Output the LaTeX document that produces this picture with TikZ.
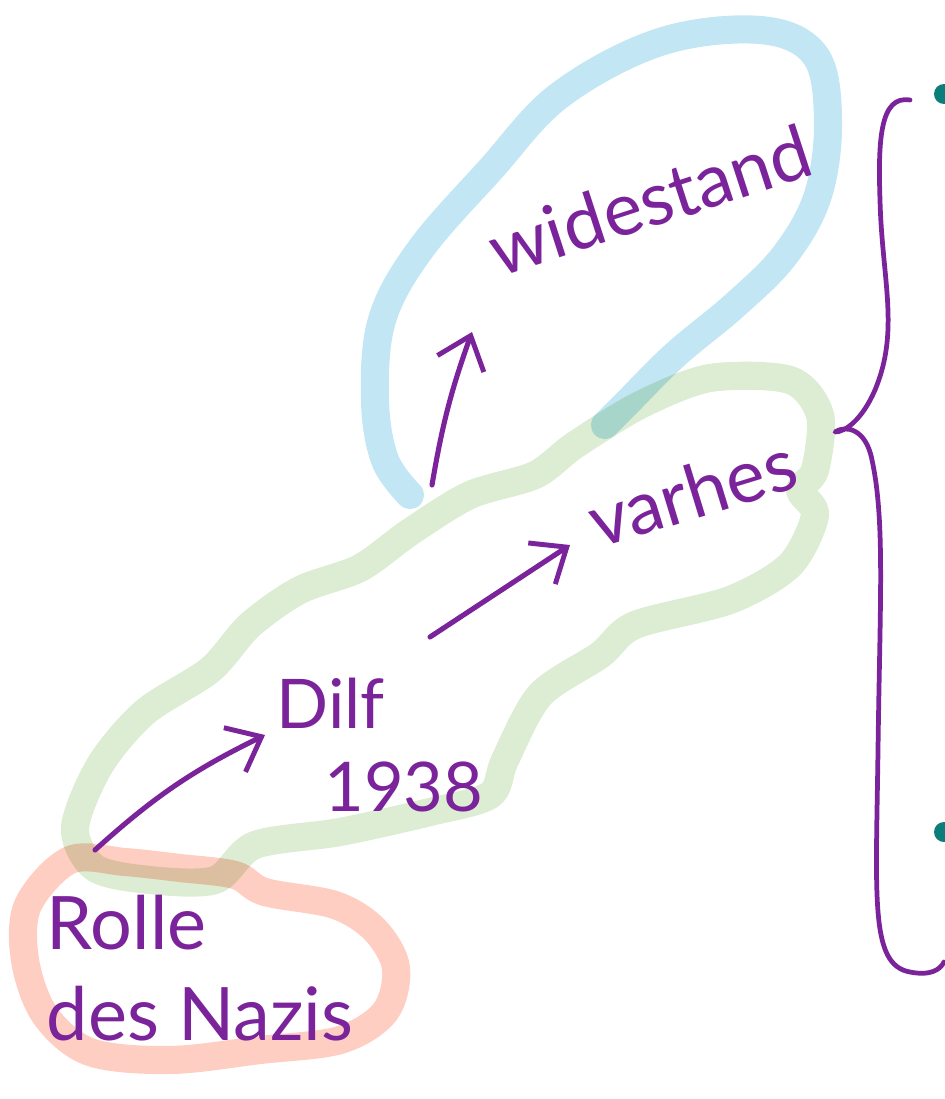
\documentclass[tikz,border=0pt]{standalone}
\usepackage{fontspec}
\setmainfont{Lato}
\usepackage{tikz}
\usetikzlibrary{arrows.meta, positioning, calc}
\definecolor{inkpurple}{HTML}{7A239A}
\definecolor{markblue}{HTML}{C2E6F4}
\definecolor{markgreen}{HTML}{DCEDD3}
\definecolor{markpink}{HTML}{FFCEC3}
\definecolor{dotteal}{HTML}{0B7E7B}

\begin{document}
\begin{tikzpicture}[x=0.02cm, y=-0.02cm, >={Straight Barb[length=17pt, width=28pt, line width=2.8pt]},
    marker/.style={line width=16pt, line cap=round, line join=round},
    ink/.style={draw=inkpurple, line width=2.9pt, line cap=round},
    scrawl/.style={text=inkpurple, font=\fontsize{42}{42}\selectfont, align=left, inner sep=0pt}]

    \useasboundingbox (0,0) rectangle (944,1099);

    % highlighter loops
    \begin{scope}[blend group=multiply]
    \draw[marker, markblue] plot[smooth, tension=0.6] coordinates {(410,495) (385,460) (375,400) (382,320) (420,250) (490,170) (560,95) (660,42) (760,30) (815,55) (828,120) (818,195) (785,255) (735,305) (675,355) (625,405) (605,425)};
    \draw[marker, markgreen] plot[smooth cycle, tension=0.5] coordinates {(75,828) (100,765) (145,712) (210,670) (250,625) (300,590) (360,568) (410,532) (470,495) (535,475) (575,445) (640,405) (710,378) (790,380) (820,415) (815,470) (800,490) (815,515) (790,565) (730,600) (635,625) (600,655) (540,695) (505,760) (490,795) (430,812) (340,832) (255,845) (215,880) (150,880) (95,868)};
    \draw[marker, markpink] plot[smooth cycle, tension=0.55] coordinates {(70,860) (28,905) (25,960) (45,1015) (90,1052) (170,1060) (260,1050) (340,1040) (385,1012) (396,968) (375,930) (335,905) (265,892) (235,875) (180,868) (125,862)};
    \end{scope}

    \node[scrawl, rotate=18] (widerstand) at (650,200) {widestand};
    \node[scrawl, rotate=17] (varhes) at (692,492) {varhes};
    \node[scrawl, font=\fontsize{39}{39}\selectfont] (dilf) at (380,745) {Dilf\\[8pt]\hspace*{0.7em}1938};
    \node[scrawl] (rolle) at (200,968) {Rolle\\[10pt]des Nazis};

    % arrows
    \coordinate (a0) at (95,850);
    \coordinate (a1) at (265,735);
    \coordinate (b0) at (430,637);
    \coordinate (b1) at (570,545);
    \coordinate (c0) at (432,485);
    \coordinate (c1) at (472,332);
    \draw[ink, ->] (a0) to[bend left=8] (a1);
    \draw[ink, ->] (b0) -- (b1);
    \draw[ink, ->] (c0) to[bend left=5] (c1);

    % brace
    \coordinate (tip) at (835,432);
    \draw[ink, line width=2.7pt, line join=round] (910,100) .. controls (880,95) and (878,140) .. (880,200)
      .. controls (882,280) and (900,330) .. (875,390) .. controls (862,420) and (845,432) .. (tip)
      .. controls (845,425) and (866,428) .. (872,460) .. controls (885,520) and (880,600) .. (878,750)
      .. controls (876,900) and (870,965) .. (910,972) .. controls (930,976) and (940,970) .. (944,962);

    \fill[dotteal] (944,94) circle (10);
    \fill[dotteal] (944,832) circle (10);
\end{tikzpicture}
\end{document}
